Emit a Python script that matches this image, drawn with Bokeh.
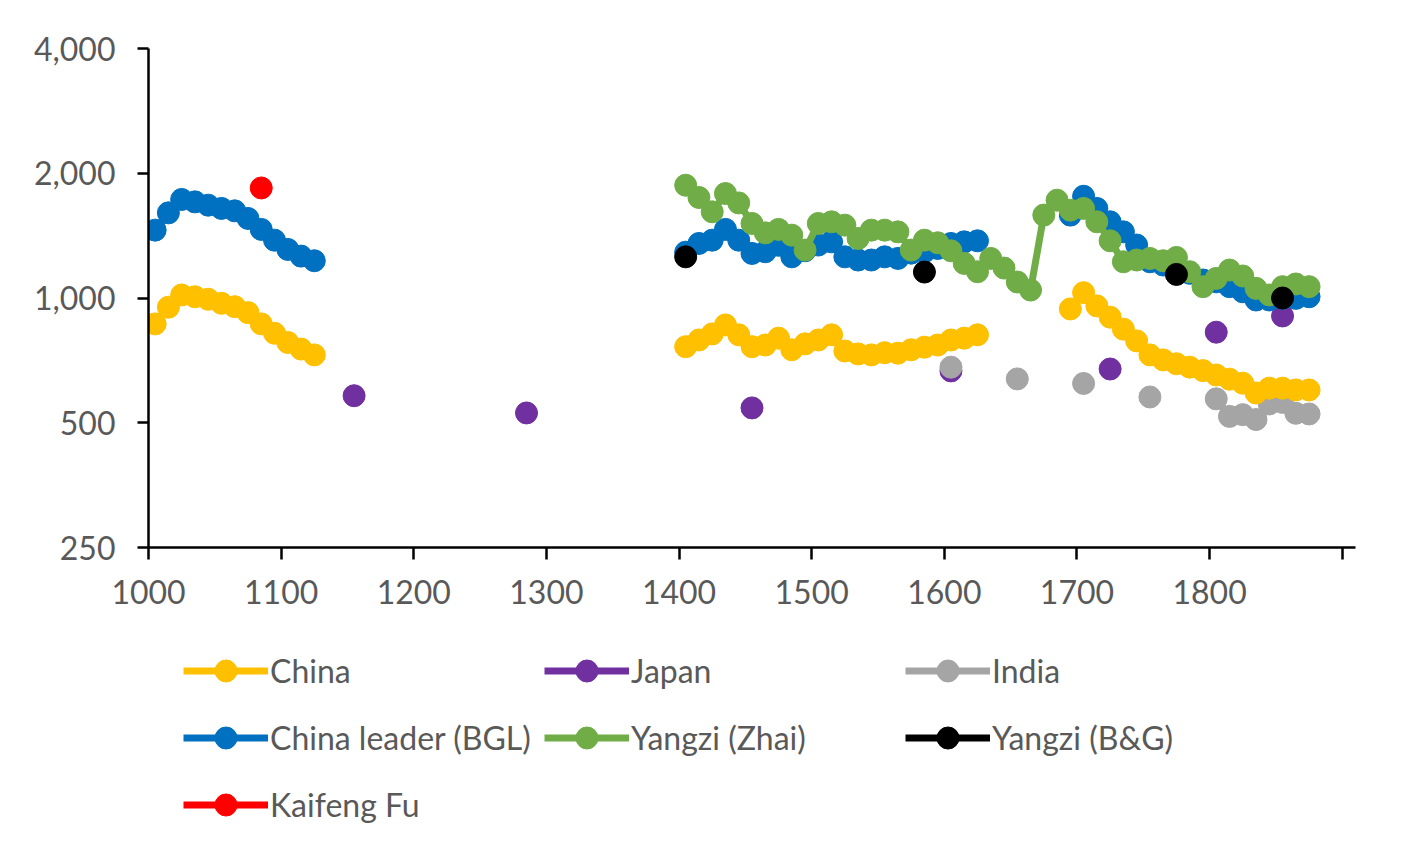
import math
from bokeh.plotting import figure
from bokeh.layouts import column
from bokeh.models import (Range1d, FixedTicker, NumeralTickFormatter, Legend, LegendItem)
from bokeh.embed import file_html
from bokeh.resources import INLINE

# ---------------- data (decade mid-points) ----------------
china_years = list(range(1005, 1126, 10)) + list(range(1405, 1626, 10)) + list(range(1695, 1876, 10))
china_vals = [866, 950, 1017, 1007, 993, 971, 953, 922, 866, 822, 781, 753, 729,
              763, 792, 819, 861, 815, 763, 770, 800, 750, 775, 792, 815, 745, 733, 729, 738, 736, 750, 761, 770, 792, 800, 815,
              941, 1030, 957, 899, 841, 788, 729, 709, 694, 681, 668, 652, 637, 623, 590, 606, 606, 600, 600]

japan_years = [1155, 1285, 1455, 1605, 1725, 1805, 1855]
japan_vals = [581, 528, 543, 667, 674, 827, 905]

india_years = [1605, 1655, 1705, 1755, 1805, 1815, 1825, 1835, 1845, 1855, 1865, 1875]
india_vals = [681, 638, 622, 577, 571, 518, 523, 509, 555, 560, 527, 525]

leader_years = china_years
leader_vals = [1458, 1605, 1729, 1706, 1675, 1645, 1623, 1556, 1464, 1379, 1310, 1262, 1230,
               1290, 1354, 1379, 1464, 1379, 1281, 1293, 1340, 1257, 1300, 1342, 1366, 1257, 1235, 1235, 1257, 1246, 1283, 1293, 1317, 1354, 1366, 1374,
               1585, 1760, 1645, 1527, 1444, 1342, 1223, 1201, 1168, 1147, 1105, 1094, 1065, 1035, 989, 989, 998, 998, 1007]

zhai_years = list(range(1405, 1876, 10))
zhai_vals = [1871, 1748, 1614, 1787, 1696, 1513, 1436, 1464, 1418, 1305, 1513, 1527, 1499, 1392, 1458, 1458,
             1444, 1305, 1379, 1359, 1300, 1212, 1157, 1246, 1181, 1093, 1045, 1585, 1722, 1629, 1645, 1527,
             1374, 1223, 1235, 1246, 1230, 1253, 1157, 1065, 1115, 1168, 1130, 1055, 1017, 1065, 1081, 1065]

bg_years = [1405, 1585, 1775, 1855]
bg_vals = [1257, 1155, 1140, 1000]

kaifeng_years = [1085]
kaifeng_vals = [1843]

x_ticks = [1000, 1100, 1200, 1300, 1400, 1500, 1600, 1700, 1800, 1900]
y_ticks = [250, 500, 1000, 2000, 4000]

series = [
    ("China", china_years, china_vals, "#FFC000"),
    ("Japan", japan_years, japan_vals, "#7030A0"),
    ("India", india_years, india_vals, "#A5A5A5"),
    ("China leader (BGL)", leader_years, leader_vals, "#0070C0"),
    ("Yangzi (Zhai)", zhai_years, zhai_vals, "#70AD47"),
    ("Yangzi (B&G)", bg_years, bg_vals, "#000000"),
    ("Kaifeng Fu", kaifeng_years, kaifeng_vals, "#FF0000"),
]
draw_order = ["Japan", "India", "China", "China leader (BGL)", "Yangzi (Zhai)", "Yangzi (B&G)", "Kaifeng Fu"]


def with_gaps(xs, ys):
    ox, oy = [], []
    for i, (x, y) in enumerate(zip(xs, ys)):
        if i > 0 and x - xs[i - 1] > 10:
            ox.append(float("nan"))
            oy.append(float("nan"))
        ox.append(x)
        oy.append(y)
    return ox, oy


FONT = "Lato"
TXT = "#595959"
LW = 7
MS = 22

# ---------------- main chart ----------------
p = figure(width=1391, height=637, y_axis_type="log",
           x_range=Range1d(1000, 1910), y_range=Range1d(250, 4000),
           output_backend="svg", toolbar_location=None,
           min_border_left=148, min_border_right=36, min_border_top=48, min_border_bottom=90)
p.outline_line_color = None
p.xgrid.visible = False
p.ygrid.visible = False
p.background_fill_color = "white"
p.border_fill_color = "white"

for name in draw_order:
    _, xs, ys, col = next(s for s in series if s[0] == name)
    lx, ly = with_gaps(xs, ys)
    p.line(lx, ly, line_width=LW, line_color=col, line_cap="round", line_join="round")
    p.scatter(xs, ys, size=MS, marker="circle", fill_color=col, line_color=col)

for ax in (p.xaxis[0], p.yaxis[0]):
    ax.axis_line_color = "black"
    ax.axis_line_width = 2.5
    ax.major_tick_line_color = "black"
    ax.major_tick_line_width = 2.5
    ax.major_tick_in = 0
    ax.minor_tick_line_color = None
    ax.major_label_text_font = FONT
    ax.major_label_text_font_size = "32px"
    ax.major_label_text_color = TXT

p.xaxis.ticker = FixedTicker(ticks=x_ticks)
p.xaxis.major_label_overrides = {1900: ""}
p.xaxis.major_tick_out = 12
p.xaxis.major_label_standoff = 20

p.yaxis.ticker = FixedTicker(ticks=y_ticks)
p.yaxis.formatter = NumeralTickFormatter(format="0,0")
p.yaxis.major_tick_out = 11
p.yaxis.major_label_standoff = 22

# ---------------- legend panel (separate strip below the chart) ----------------
lf = figure(width=1391, height=205, x_range=Range1d(0, 1), y_range=Range1d(0, 1),
            x_axis_location=None, y_axis_location=None,
            output_backend="svg", toolbar_location=None,
            min_border_left=0, min_border_right=0, min_border_top=0, min_border_bottom=0)
lf.outline_line_color = None
lf.xgrid.visible = False
lf.ygrid.visible = False
lf.background_fill_color = "white"
lf.border_fill_color = "white"

items = []
for name, xs, ys, col in series:
    # same series, outside this strip's visible range: only their legend swatches show
    lx, ly = with_gaps(xs, ys)
    lr = lf.line(lx, ly, line_width=LW, line_color=col)
    sr = lf.scatter(xs, ys, size=MS, marker="circle", fill_color=col, line_color=col)
    items.append(LegendItem(label=name, renderers=[lr, sr]))

legend = Legend(items=items, location=(35, 10), orientation="horizontal", ncols=3,
                glyph_width=85, glyph_height=55, label_standoff=2, label_width=262, spacing=12,
                padding=0, margin=0, border_line_color=None, background_fill_alpha=0,
                label_text_font=FONT, label_text_font_size="32px", label_text_color=TXT)
lf.add_layout(legend)

layout = column(p, lf, spacing=0)
open("out.html", "w").write(file_html(layout, INLINE))
